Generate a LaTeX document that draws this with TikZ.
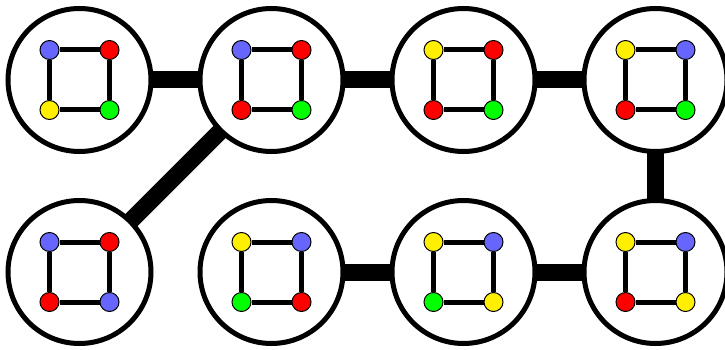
\documentclass[tikz,border=0pt]{standalone}
\usepackage{tikz}
\usetikzlibrary{positioning}

\definecolor{cblue}{RGB}{102,102,255}
\definecolor{cred}{RGB}{255,0,0}
\definecolor{cgreen}{RGB}{0,255,0}
\definecolor{cyellow}{RGB}{255,240,0}

% four coloured corners and the square between them, inside state #1
\newcommand{\colsquare}[5]{%
	\node[dot,fill=#2] (#1a) at ([shift={(-30pt,30pt)}]#1.center) {};
	\node[dot,fill=#3] (#1b) at ([shift={(30pt,30pt)}]#1.center) {};
	\node[dot,fill=#4] (#1c) at ([shift={(-30pt,-30pt)}]#1.center) {};
	\node[dot,fill=#5] (#1d) at ([shift={(30pt,-30pt)}]#1.center) {};
	\draw[side] (#1a) -- (#1b) -- (#1d) -- (#1c) -- (#1a);
}

\begin{document}
\begin{tikzpicture}[node distance=192pt,
	state/.style={circle,draw,line width=5pt,minimum size=143pt},
	dot/.style={circle,draw,line width=1pt,minimum size=19pt,inner sep=0pt},
	side/.style={line width=5pt},
	link/.style={line width=17pt,shorten <=-4pt,shorten >=-4pt}]
	
	\useasboundingbox (0,0) rectangle (725pt,-350pt);
	
	\node[state] (s1) at (79.5pt,-80pt) {};
	\node[state] (s2) [right of=s1] {};
	\node[state] (s3) [right of=s2] {};
	\node[state] (s4) [right of=s3] {};
	\node[state] (s5) [below of=s1] {};
	\node[state] (s6) [right of=s5] {};
	\node[state] (s7) [right of=s6] {};
	\node[state] (s8) [right of=s7] {};
	
	\colsquare{s1}{cblue}{cred}{cyellow}{cgreen}
	\colsquare{s2}{cblue}{cred}{cred}{cgreen}
	\colsquare{s3}{cyellow}{cred}{cred}{cgreen}
	\colsquare{s4}{cyellow}{cblue}{cred}{cgreen}
	\colsquare{s5}{cblue}{cred}{cred}{cblue}
	\colsquare{s6}{cyellow}{cblue}{cgreen}{cred}
	\colsquare{s7}{cyellow}{cblue}{cgreen}{cyellow}
	\colsquare{s8}{cyellow}{cblue}{cred}{cyellow}
	
	\path[link]
	(s1) edge (s2)
	(s2) edge (s3)
	(s3) edge (s4)
	(s4) edge (s8)
	(s8) edge (s7)
	(s7) edge (s6)
	(s2) edge (s5);
\end{tikzpicture}
\end{document}
